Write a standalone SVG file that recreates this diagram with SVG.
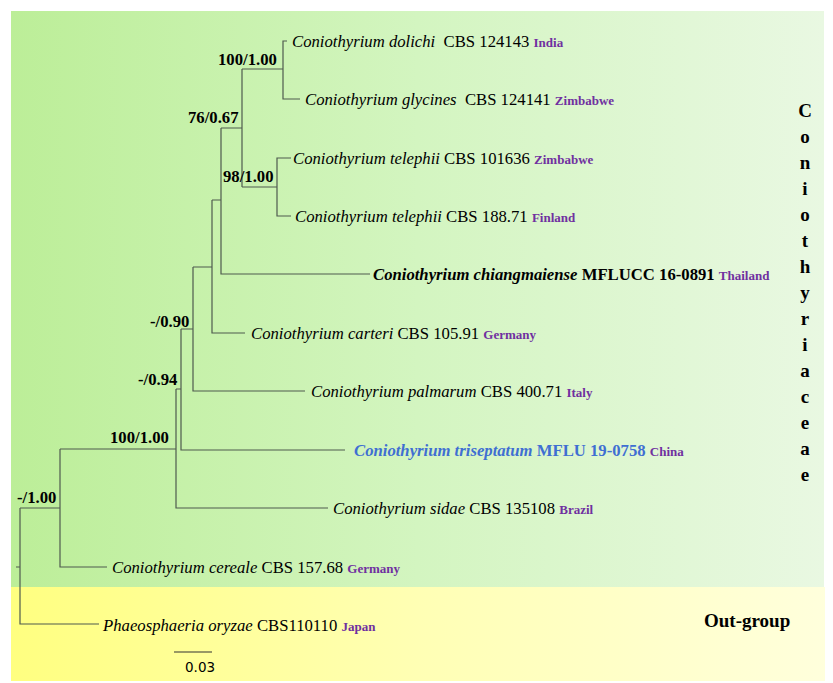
<svg xmlns="http://www.w3.org/2000/svg" width="833" height="683" viewBox="0 0 833 683">
<defs>
<linearGradient id="gGreen" x1="0" y1="0" x2="1" y2="0">
<stop offset="0" stop-color="#bcee98"/>
<stop offset="0.5" stop-color="#d3f5c0"/>
<stop offset="1" stop-color="#e9f8e2"/>
</linearGradient>
<linearGradient id="gYellow" x1="0" y1="0" x2="1" y2="0">
<stop offset="0" stop-color="#ffff80"/>
<stop offset="0.5" stop-color="#ffffb4"/>
<stop offset="1" stop-color="#ffffdc"/>
</linearGradient>
<style>
.br{fill:none;stroke:#4f5a4f;stroke-width:1.2}
.tip{font-family:"Liberation Serif","Times New Roman",serif;font-size:16.7px;fill:#000;white-space:pre}
.it{font-style:italic}
.bd{font-weight:bold}
.ct{font-family:"Liberation Serif","Times New Roman",serif;font-size:13px;font-weight:bold;fill:#7030a0;font-style:normal}
.sup{font-family:"Liberation Serif","Times New Roman",serif;font-size:16.7px;font-weight:bold;fill:#000}
.fam{font-family:"Liberation Serif","Times New Roman",serif;font-size:19px;font-weight:bold;fill:#000;text-anchor:middle}
.blue{fill:#3f6fd2}
</style>
</defs>
<g id="background">
<rect x="11" y="11" width="813" height="576" fill="url(#gGreen)"/>
<rect x="11" y="587" width="814" height="94" fill="url(#gYellow)"/>
</g>
<g id="connectors">
<path class="br" d="M287,41 H283 V99 H300 M242,69 H283"/>
<path class="br" d="M291,158 H277 V216 H291 M242,187 H277"/>
<path class="br" d="M242,69 V187 M221,128 H242"/>
<path class="br" d="M221,128 V274 H370 M212,200 H221"/>
<path class="br" d="M212,200 V333 H245 M193,267 H212"/>
<path class="br" d="M193,267 V391 H305 M181,329 H193"/>
<path class="br" d="M181,329 V450 H345 M176,389 H181"/>
<path class="br" d="M176,389 V508 H328 M60,449 H176"/>
<path class="br" d="M60,449 V567 H107 M20,508 H60"/>
<path class="br" d="M20,508 V624 H99 M16,567 H20"/>
</g>
<g id="support">
<text class="sup" x="218" y="65">100/1.00</text>
<text class="sup" x="188" y="123">76/0.67</text>
<text class="sup" x="223" y="182">98/1.00</text>
<text class="sup" x="150" y="327">-/0.90</text>
<text class="sup" x="138" y="385">-/0.94</text>
<text class="sup" x="110" y="443">100/1.00</text>
<text class="sup" x="17" y="503">-/1.00</text>
</g>
<g id="tip-dolichi"><text class="tip" x="292" y="47"><tspan class="it">Coniothyrium dolichi</tspan>  CBS 124143 <tspan class="ct">India</tspan></text></g>
<g id="tip-glycines"><text class="tip" x="305" y="105"><tspan class="it">Coniothyrium glycines</tspan>  CBS 124141 <tspan class="ct">Zimbabwe</tspan></text></g>
<g id="tip-telephii1"><text class="tip" x="293" y="164"><tspan class="it">Coniothyrium telephii</tspan> CBS 101636 <tspan class="ct">Zimbabwe</tspan></text></g>
<g id="tip-telephii2"><text class="tip" x="295" y="222"><tspan class="it">Coniothyrium telephii</tspan> CBS 188.71 <tspan class="ct">Finland</tspan></text></g>
<g id="tip-chiangmaiense"><text class="tip bd" x="373" y="280"><tspan class="it">Coniothyrium chiangmaiense</tspan> MFLUCC 16-0891 <tspan class="ct">Thailand</tspan></text></g>
<g id="tip-carteri"><text class="tip" x="251" y="339"><tspan class="it">Coniothyrium carteri</tspan> CBS 105.91 <tspan class="ct">Germany</tspan></text></g>
<g id="tip-palmarum"><text class="tip" x="311" y="397"><tspan class="it">Coniothyrium palmarum</tspan> CBS 400.71 <tspan class="ct">Italy</tspan></text></g>
<g id="tip-triseptatum"><text class="tip bd blue" x="354" y="456"><tspan class="it">Coniothyrium triseptatum</tspan> MFLU 19-0758 <tspan class="ct">China</tspan></text></g>
<g id="tip-sidae"><text class="tip" x="333" y="514"><tspan class="it">Coniothyrium sidae</tspan> CBS 135108 <tspan class="ct">Brazil</tspan></text></g>
<g id="tip-cereale"><text class="tip" x="112" y="573"><tspan class="it">Coniothyrium cereale</tspan> CBS 157.68 <tspan class="ct">Germany</tspan></text></g>
<g id="tip-oryzae"><text class="tip" x="103" y="631"><tspan class="it">Phaeosphaeria oryzae</tspan> CBS110110 <tspan class="ct">Japan</tspan></text></g>
<g id="family-label">
<text class="fam" x="805" y="117">C</text>
<text class="fam" x="805" y="143">o</text>
<text class="fam" x="805" y="169">n</text>
<text class="fam" x="805" y="195">i</text>
<text class="fam" x="805" y="221">o</text>
<text class="fam" x="805" y="247">t</text>
<text class="fam" x="805" y="273">h</text>
<text class="fam" x="805" y="299">y</text>
<text class="fam" x="805" y="325">r</text>
<text class="fam" x="805" y="351">i</text>
<text class="fam" x="805" y="377">a</text>
<text class="fam" x="805" y="403">c</text>
<text class="fam" x="805" y="429">e</text>
<text class="fam" x="805" y="455">a</text>
<text class="fam" x="805" y="481">e</text>
</g>
<g id="outgroup-label">
<text x="704" y="627" style="font-family:'Liberation Serif','Times New Roman',serif;font-size:19px;font-weight:bold;fill:#000">Out-group</text>
</g>
<g id="scale-bar">
<path d="M174,652 H212" style="fill:none;stroke:#333;stroke-width:1.2"/>
<text x="185" y="672" style="font-family:'DejaVu Sans','Liberation Sans',sans-serif;font-size:13.5px;fill:#000">0.03</text>
</g>
</svg>
